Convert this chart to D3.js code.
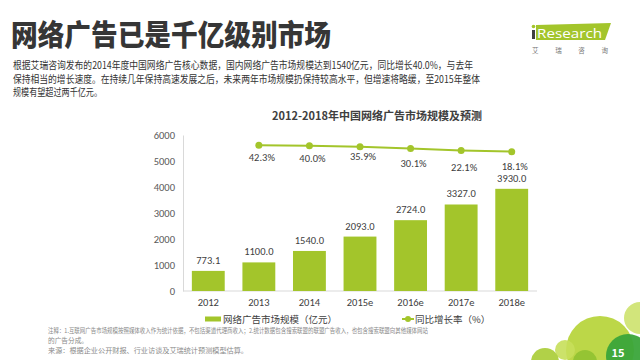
<!DOCTYPE html>
<html><head><meta charset="utf-8">
<script src="https://cdn.jsdelivr.net/npm/d3@7"></script>
<style>
html,body{margin:0;padding:0;background:#fff;}
svg{display:block;font-family:"Noto Sans CJK SC","Noto Sans",sans-serif;}
</style></head>
<body>
<script>
const categories = ["2012","2013","2014","2015e","2016e","2017e","2018e"];
const marketSize = [773.1,1100.0,1540.0,2093.0,2724.0,3327.0,3930.0];
const growthYears = ["2013","2014","2015e","2016e","2017e","2018e"];
const growthRate = [42.3,40.0,35.9,30.1,22.1,18.1];
const yTicks = [0,1000,2000,3000,4000,5000,6000];
const labelDy = [0,0,-3,3,4,2];

const W=640,H=360;
const svg=d3.select("body").append("svg").attr("width",W).attr("height",H);
const green="#a3c52b";
const txt="#404040";
const numFont="Calibri, Carlito, 'Liberation Sans', sans-serif";

// Header title
svg.append("text").attr("x",11).attr("y",46).attr("font-size",29).attr("font-weight",900)
 .attr("fill","#363636").attr("textLength",320).attr("lengthAdjust","spacingAndGlyphs")
 .text("网络广告已是千亿级别市场");

// Logo
const lg=svg.append("g");
lg.append("path").attr("d","M536,25 L611,23 L605,40 L536,40 Z").attr("fill",green);
lg.append("rect").attr("x",532).attr("y",30).attr("width",3).attr("height",9).attr("fill","#404040");
lg.append("circle").attr("cx",533.5).attr("cy",26.5).attr("r",1.8).attr("fill",green);
lg.append("text").attr("x",537).attr("y",37.5).attr("font-size",13).attr("fill","#fff")
 .attr("font-family","Open Sans, sans-serif").attr("textLength",65).attr("lengthAdjust","spacingAndGlyphs").text("Research");
lg.append("text").attr("x",532).attr("y",53).attr("font-size",6.5).attr("fill","#777")
 .attr("textLength",76).attr("lengthAdjust","spacing").text("艾瑞咨询");

// Paragraph
const para=[
 ["根据艾瑞咨询发布的2014年度中国网络广告核心数据，国内网络广告市场规模达到1540亿元，同比增长40.0%，与去年",460],
 ["保持相当的增长速度。在持续几年保持高速发展之后，未来两年市场规模扔保持较高水平，但增速将略缓，至2015年整体",467],
 ["规模有望超过两千亿元。",89]];
para.forEach((p,i)=>{
 svg.append("text").attr("x",13).attr("y",69+i*13.5).attr("font-size",10).attr("fill","#333")
  .attr("textLength",p[1]).attr("lengthAdjust","spacingAndGlyphs").text(p[0]);
});

// Chart
const x=d3.scaleBand().domain(categories).range([183,537]).paddingInner(0.35).paddingOuter(0.175);
const y=d3.scaleLinear().domain([0,6000]).range([291,135]);
const y2=d3.scaleLinear().domain([-500,80]).range([291,135]);

svg.append("text").attr("x",377).attr("y",120).attr("text-anchor","middle").attr("font-size",11)
 .attr("font-weight","bold").attr("fill",txt).text("2012-2018年中国网络广告市场规模及预测");

const yAxis=svg.append("g").attr("transform","translate(183,0)")
 .call(d3.axisLeft(y).tickValues(yTicks).tickFormat(d3.format("d")).tickSize(0).tickPadding(8));
yAxis.select(".domain").attr("stroke","#d9d9d9");
yAxis.selectAll("text").attr("font-size",10.5).attr("fill","#595959").attr("font-family",numFont);

const xAxis=svg.append("g").attr("transform","translate(0,291)")
 .call(d3.axisBottom(x).tickSize(0).tickPadding(8));
xAxis.select(".domain").attr("stroke","#d9d9d9").attr("d","M183,0H537");
xAxis.selectAll("text").attr("font-size",10.5).attr("fill","#404040").attr("font-family",numFont);

svg.append("g").selectAll("rect").data(marketSize).join("rect")
 .attr("x",(d,i)=>x(categories[i])).attr("width",x.bandwidth())
 .attr("y",d=>y(d)).attr("height",d=>y(0)-y(d)).attr("fill",green);

svg.append("g").selectAll("text").data(marketSize).join("text")
 .attr("x",(d,i)=>x(categories[i])+x.bandwidth()/2).attr("y",d=>y(d)-7)
 .attr("text-anchor","middle").attr("font-size",10.5).attr("fill",txt)
 .attr("font-family",numFont)
 .text(d=>d.toFixed(1));

const cx=k=>x(k)+x.bandwidth()/2;
const line=d3.line().x((d,i)=>cx(growthYears[i])).y(d=>y2(d));
svg.append("path").datum(growthRate).attr("d",line).attr("fill","none").attr("stroke",green).attr("stroke-width",2);
svg.append("g").selectAll("circle").data(growthRate).join("circle")
 .attr("cx",(d,i)=>cx(growthYears[i])).attr("cy",d=>y2(d)).attr("r",3.5).attr("fill",green);
svg.append("g").selectAll("text").data(growthRate).join("text")
 .attr("x",(d,i)=>cx(growthYears[i])+3).attr("y",(d,i)=>y2(d)+16+labelDy[i])
 .attr("text-anchor","middle").attr("font-size",10.5).attr("fill",txt)
 .attr("font-family",numFont)
 .text(d=>d.toFixed(1)+"%");

// Legend
svg.append("rect").attr("x",205).attr("y",316.5).attr("width",16).attr("height",5).attr("fill",green);
svg.append("text").attr("x",223).attr("y",322.5).attr("font-size",9.5).attr("fill",txt).text("网络广告市场规模（亿元）");
svg.append("line").attr("x1",402).attr("x2",414).attr("y1",319).attr("y2",319).attr("stroke",green).attr("stroke-width",2);
svg.append("circle").attr("cx",408).attr("cy",319).attr("r",3).attr("fill",green);
svg.append("text").attr("x",415).attr("y",322.5).attr("font-size",9.5).attr("fill",txt).text("同比增长率（%）");

// Decoration bottom right
const deco=svg.append("g");
[[600,350,34,"#b5d334",0.9],[640,318,16,"#c7df5a",0.8],[565,350,10,"#c7df5a",0.9],[545,362,14,"#a8cc34",0.9],[628,356,22,"#3aa53a",0.95],[585,362,12,"#8bbf2e",0.8]]
 .forEach(c=>deco.append("circle").attr("cx",c[0]).attr("cy",c[1]).attr("r",c[2]).attr("fill",c[3]).attr("opacity",c[4]));
svg.append("text").attr("x",618).attr("y",357).attr("font-size",11).attr("font-weight","bold").attr("fill","#fff").attr("text-anchor","middle").text("15");

// Notes
const notes=[
 ["注释：1.互联网广告市场规模按照媒体收入作为统计依据，不包括渠道代理商收入；2.统计数据包含搜索联盟的联盟广告收入，也包含搜索联盟向其他媒体网站",48,333,380],
 ["的广告分成。",48,343,40],
 ["来源：根据企业公开财报、行业访谈及艾瑞统计预测模型估算。",48,353,200]];
notes.forEach(n=>svg.append("text").attr("x",n[1]).attr("y",n[2]).attr("font-size",6.5).attr("fill","#8a8a8a")
 .attr("textLength",n[3]).attr("lengthAdjust","spacingAndGlyphs").text(n[0]));
</script>
</body></html>
